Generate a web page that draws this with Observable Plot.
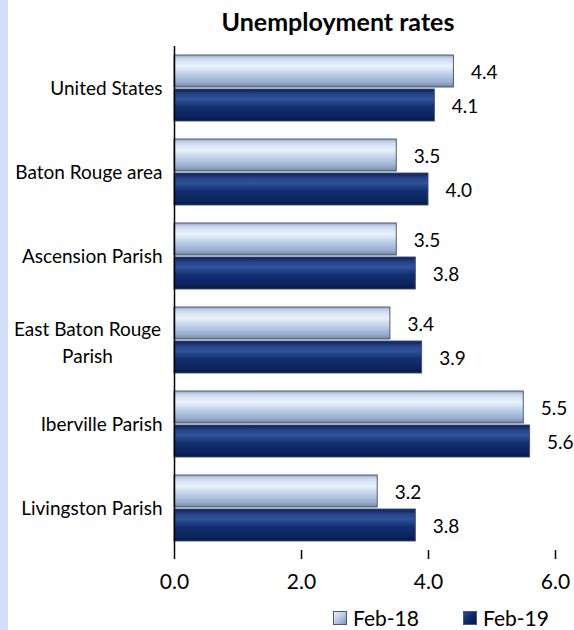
<!DOCTYPE html>
<html>
<head>
<meta charset="utf-8">
<script src="https://cdn.jsdelivr.net/npm/d3@7"></script>
<script src="https://cdn.jsdelivr.net/npm/@observablehq/plot@0.6"></script>
<style>
  html, body { margin: 0; padding: 0; background: #fff; }
  #wrap { position: relative; width: 574px; height: 630px; overflow: hidden; font-family: Lato, sans-serif; }
  #stripe { position: absolute; left: 0; top: 0; width: 8px; height: 630px; background: #d3dff4; }
  #title { position: absolute; left: 0; top: 7px; width: 676px; text-align: center; font-weight: bold; font-size: 25px; line-height: 28px; color: #000; }
  #chart { position: absolute; left: 0; top: 36px; }
  #legend { position: absolute; top: 603px; left: 333px; font-size: 21px; line-height: 28px; color: #000; white-space: nowrap; }
  .item { display: inline-flex; align-items: center; margin-right: 44px; }
  .sw { width: 14px; height: 14px; margin-right: 6px; }
</style>
</head>
<body>
<div id="wrap">
  <div id="stripe"></div>
  <div id="title">Unemployment rates</div>
  <div id="chart"></div>
  <div id="legend"></div>
</div>
<script>
const categories = ["United States", "Baton Rouge area", "Ascension Parish", "East Baton Rouge Parish", "Iberville Parish", "Livingston Parish"];
const categoryLabels = ["United States", "Baton Rouge area", "Ascension Parish", "East Baton Rouge\nParish", "Iberville Parish", "Livingston Parish"];
const series = ["Feb-18", "Feb-19"];
const feb18 = [4.4, 3.5, 3.5, 3.4, 5.5, 3.2];
const feb19 = [4.1, 4.0, 3.8, 3.9, 5.6, 3.8];
const xTicks = [0, 2, 4, 6];

const rows = categories.flatMap((c, i) => [
  {cat: c, label: categoryLabels[i], series: series[0], value: feb18[i]},
  {cat: c, label: categoryLabels[i], series: series[1], value: feb19[i]}
]);

const chart = Plot.plot({
  width: 574,
  height: 564,
  marginLeft: 174,
  marginRight: 19,
  marginTop: 8,
  marginBottom: 48,
  style: {fontFamily: "Lato, sans-serif", fontSize: "19px", color: "#000", background: "transparent", overflow: "visible"},
  facet: {data: rows, y: "cat"},
  fy: {domain: categories, padding: 0, axis: null},
  y: {domain: series, axis: null, paddingInner: 0.06, paddingOuter: 0.24},
  x: {domain: [0, 6], axis: null},
  color: {domain: series, range: ["url(#gLight)", "url(#gDark)"]},
  marks: [
    Plot.barX(rows, {x: "value", y: "series", fill: "series", stroke: "#3e4d6a", strokeWidth: 0.9}),
    Plot.text(rows, {x: "value", y: "series", text: d => d.value.toFixed(1), dx: 17, dy: 1, textAnchor: "start", fontSize: 19, fill: "#000"}),
    Plot.text(rows, Plot.selectFirst({filter: d => !d.label.includes("\n"), text: "label", frameAnchor: "left", dx: -12, textAnchor: "end", fontSize: 19, fill: "#000"})),
    Plot.text(rows, Plot.selectFirst({filter: d => d.label.includes("\n"), text: "label", frameAnchor: "left", dx: -87, textAnchor: "middle", fontSize: 19, lineHeight: 1.45, fill: "#000"})),
    Plot.ruleX([0], {stroke: "#000", strokeWidth: 1.5}),
    Plot.axisX({ticks: xTicks, tickFormat: d => d.toFixed(1), tickSize: 9, tickPadding: 15, fontSize: 21, label: null, line: true, stroke: "#000", strokeWidth: 1.5})
  ]
});

d3.select(chart).insert("defs", ":first-child").html(`
  <linearGradient id="gLight" x1="0" y1="0" x2="0" y2="1">
    <stop offset="0" stop-color="#98abc9"/>
    <stop offset="0.12" stop-color="#cddbef"/>
    <stop offset="0.35" stop-color="#eaf1fa"/>
    <stop offset="0.6" stop-color="#bdcfe8"/>
    <stop offset="0.85" stop-color="#98aed0"/>
    <stop offset="1" stop-color="#72889f"/>
  </linearGradient>
  <linearGradient id="gDark" x1="0" y1="0" x2="0" y2="1">
    <stop offset="0" stop-color="#0a1d52"/>
    <stop offset="0.15" stop-color="#24448a"/>
    <stop offset="0.32" stop-color="#30529a"/>
    <stop offset="0.55" stop-color="#12306f"/>
    <stop offset="0.85" stop-color="#0c2460"/>
    <stop offset="1" stop-color="#061743"/>
  </linearGradient>`);

document.getElementById("chart").appendChild(chart);

const legendFills = ["linear-gradient(135deg, #e6eef8 0%, #b8cae4 50%, #7f95ba 100%)", "linear-gradient(135deg, #2a4a8e 0%, #0f2a6b 50%, #061743 100%)"];
const legend = d3.select("#legend");
series.forEach((s, i) => {
  const it = legend.append("span").attr("class", "item");
  it.append("span").attr("class", "sw").style("background", legendFills[i]).style("border", "1px solid #4a5a78").style("box-sizing", "border-box");
  it.append("span").text(s);
});
</script>
</body>
</html>
